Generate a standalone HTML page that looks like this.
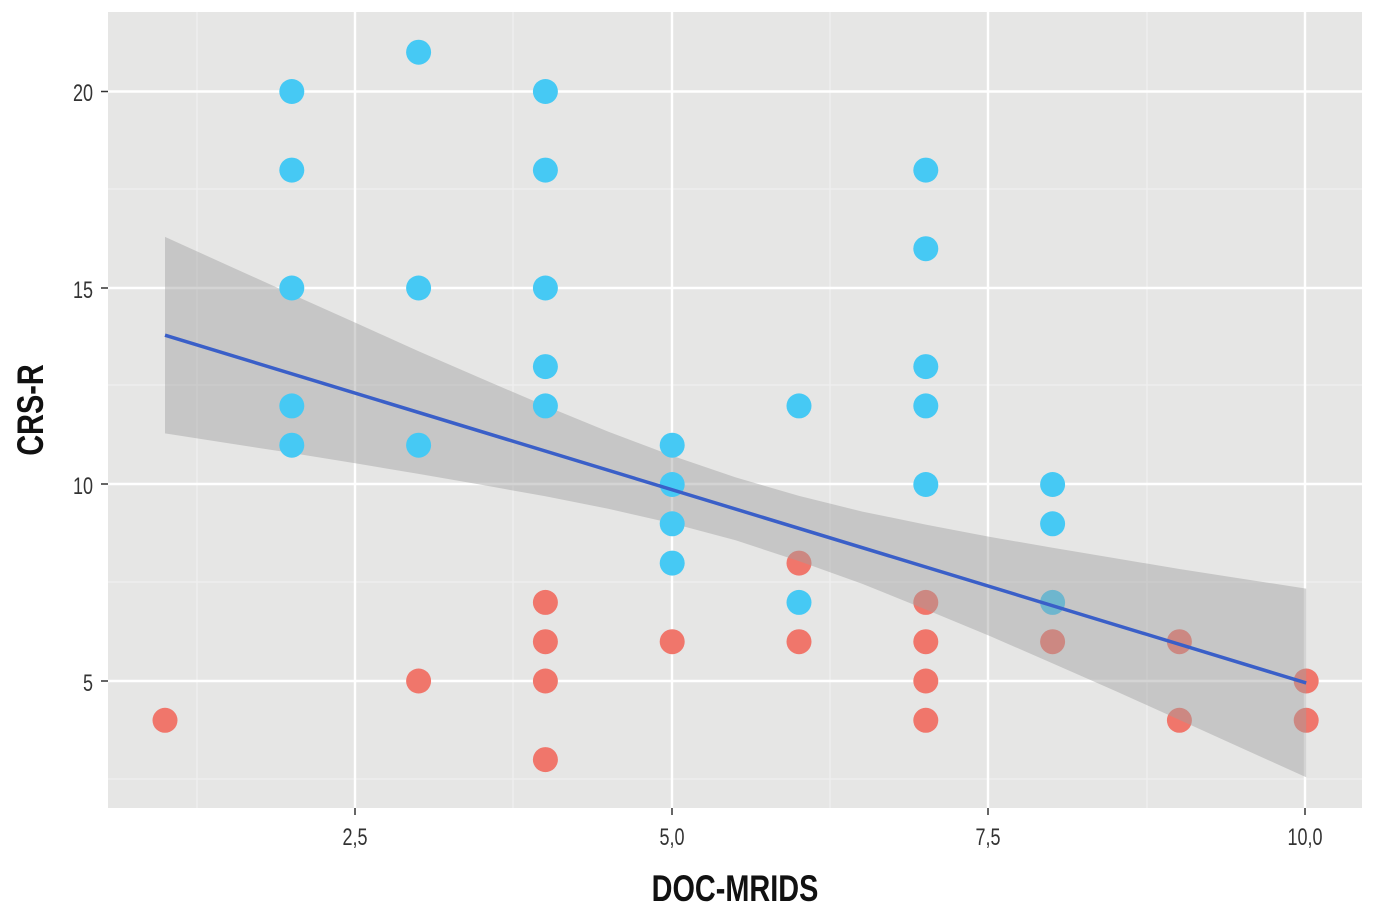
<!DOCTYPE html>
<html><head><meta charset="utf-8"><style>
body{margin:0;background:#fff;}
text{font-family:"Liberation Sans Narrow","Liberation Sans",sans-serif;}
</style></head><body>
<svg width="1381" height="918" xmlns="http://www.w3.org/2000/svg">
<rect x="108" y="12" width="1254" height="796" fill="#e6e6e5"/>
<g stroke="#f0f0f0" stroke-width="1.2">
<line x1="197" y1="12" x2="197" y2="808"/><line x1="513" y1="12" x2="513" y2="808"/>
<line x1="830" y1="12" x2="830" y2="808"/><line x1="1147" y1="12" x2="1147" y2="808"/>
<line x1="108" y1="779" x2="1362" y2="779"/><line x1="108" y1="582" x2="1362" y2="582"/>
<line x1="108" y1="385" x2="1362" y2="385"/><line x1="108" y1="189" x2="1362" y2="189"/>
</g>
<g stroke="#ffffff" stroke-width="2.4">
<line x1="355" y1="12" x2="355" y2="808"/><line x1="672" y1="12" x2="672" y2="808"/>
<line x1="988" y1="12" x2="988" y2="808"/><line x1="1305" y1="12" x2="1305" y2="808"/>
<line x1="108" y1="681" x2="1362" y2="681"/><line x1="108" y1="484" x2="1362" y2="484"/>
<line x1="108" y1="288" x2="1362" y2="288"/><line x1="108" y1="91.5" x2="1362" y2="91.5"/>
</g>
<g fill="#f0766b">
<circle cx="165" cy="720.3" r="12.5"/><circle cx="418.6" cy="681" r="12.5"/>
<circle cx="545.4" cy="602.4" r="12.5"/><circle cx="545.4" cy="641.7" r="12.5"/><circle cx="545.4" cy="681" r="12.5"/><circle cx="545.4" cy="759.6" r="12.5"/>
<circle cx="672.2" cy="641.7" r="12.5"/><circle cx="799" cy="563.1" r="12.5"/><circle cx="799" cy="641.7" r="12.5"/>
<circle cx="925.8" cy="602.4" r="12.5"/><circle cx="925.8" cy="641.7" r="12.5"/><circle cx="925.8" cy="681" r="12.5"/><circle cx="925.8" cy="720.3" r="12.5"/>
<circle cx="1052.6" cy="641.7" r="12.5"/><circle cx="1179.4" cy="641.7" r="12.5"/><circle cx="1179.4" cy="720.3" r="12.5"/>
<circle cx="1306.2" cy="681" r="12.5"/><circle cx="1306.2" cy="720.3" r="12.5"/>
<circle cx="1052.6" cy="602.4" r="12.5" fill="#46c9f4"/>
</g>
<g transform="translate(38.2,877.5) scale(126.8,-39.3)">
<polygon fill="#a0a0a0" fill-opacity="0.45" points="1,16.3 1.5,15.57 2,14.84 2.5,14.12 3,13.39 3.5,12.69 4,12.0 4.5,11.34 5,10.73 5.5,10.18 6,9.71 6.5,9.31 7,8.98 7.5,8.67 8,8.39 8.5,8.12 9,7.85 9.5,7.6 10,7.35 10,2.55 9.5,3.28 9,4.01 8.5,4.74 8,5.45 7.5,6.15 7,6.82 6.5,7.47 6,8.05 5.5,8.58 5,9.01 4.5,9.38 4,9.7 3.5,9.99 3,10.27 2.5,10.54 2,10.8 1.5,11.05 1,11.3"/>
</g>
<g fill="#46c9f4">
<circle cx="291.8" cy="91.5" r="12.5"/><circle cx="291.8" cy="170.1" r="12.5"/><circle cx="291.8" cy="288" r="12.5"/><circle cx="291.8" cy="405.9" r="12.5"/><circle cx="291.8" cy="445.2" r="12.5"/>
<circle cx="418.6" cy="52.2" r="12.5"/><circle cx="418.6" cy="288" r="12.5"/><circle cx="418.6" cy="445.2" r="12.5"/>
<circle cx="545.4" cy="91.5" r="12.5"/><circle cx="545.4" cy="170.1" r="12.5"/><circle cx="545.4" cy="288" r="12.5"/><circle cx="545.4" cy="366.6" r="12.5"/><circle cx="545.4" cy="405.9" r="12.5"/>
<circle cx="672.2" cy="445.2" r="12.5"/><circle cx="672.2" cy="484.5" r="12.5"/><circle cx="672.2" cy="523.8" r="12.5"/><circle cx="672.2" cy="563.1" r="12.5"/>
<circle cx="799" cy="405.9" r="12.5"/><circle cx="799" cy="602.4" r="12.5"/>
<circle cx="925.8" cy="170.1" r="12.5"/><circle cx="925.8" cy="248.7" r="12.5"/><circle cx="925.8" cy="366.6" r="12.5"/><circle cx="925.8" cy="405.9" r="12.5"/><circle cx="925.8" cy="484.5" r="12.5"/>
<circle cx="1052.6" cy="484.5" r="12.5"/><circle cx="1052.6" cy="523.8" r="12.5"/>
</g>
<g transform="translate(38.2,877.5) scale(126.8,-39.3)">
<line x1="1" y1="13.8" x2="10" y2="4.95" stroke="#3a5fc8" stroke-width="3.5" vector-effect="non-scaling-stroke"/>
</g>
<g stroke="#333" stroke-width="1.5">
<line x1="101" y1="681" x2="108" y2="681"/><line x1="101" y1="484" x2="108" y2="484"/><line x1="101" y1="288" x2="108" y2="288"/><line x1="101" y1="91.5" x2="108" y2="91.5"/>
<line x1="355" y1="808" x2="355" y2="815"/><line x1="672" y1="808" x2="672" y2="815"/><line x1="988" y1="808" x2="988" y2="815"/><line x1="1305" y1="808" x2="1305" y2="815"/>
</g>
<g font-size="24" fill="#333" text-anchor="end">
<text transform="translate(93,691) scale(0.75,1)">5</text><text transform="translate(93,494) scale(0.75,1)">10</text><text transform="translate(93,298) scale(0.75,1)">15</text><text transform="translate(93,101) scale(0.75,1)">20</text>
</g>
<g font-size="24" fill="#333" text-anchor="middle">
<text transform="translate(355,845) scale(0.75,1)">2,5</text><text transform="translate(672,845) scale(0.75,1)">5,0</text><text transform="translate(988,845) scale(0.75,1)">7,5</text><text transform="translate(1305,845) scale(0.75,1)">10,0</text>
</g>
<text transform="translate(735,901) scale(0.78,1)" font-size="37" font-weight="bold" fill="#111" text-anchor="middle">DOC-MRIDS</text>
<text transform="translate(43,410) rotate(-90) scale(0.78,1)" font-size="37" font-weight="bold" fill="#111" text-anchor="middle">CRS-R</text>
</svg>
</body></html>
